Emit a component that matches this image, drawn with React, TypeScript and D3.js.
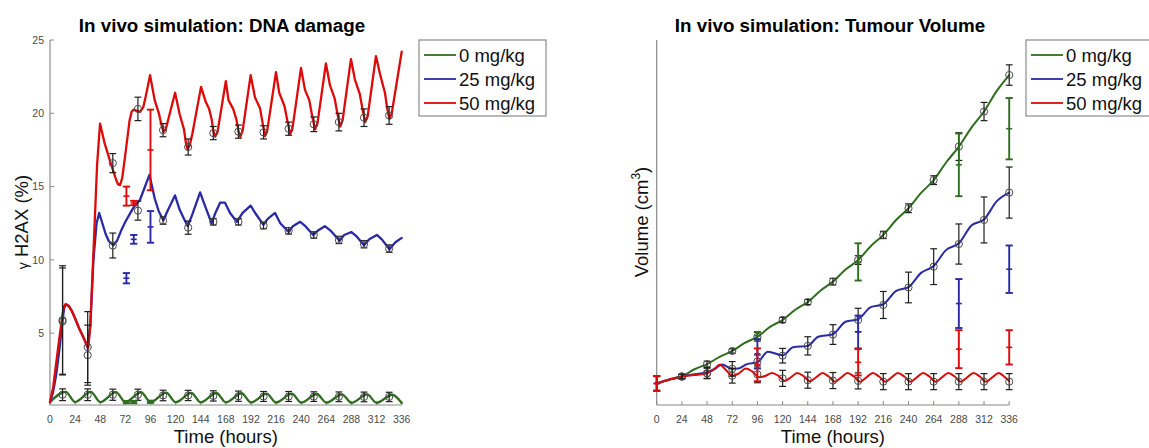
import React from 'react';
import * as d3 from 'd3';

// ---------- shared ----------
const HOUR_TICKS = [0, 24, 48, 72, 96, 120, 144, 168, 192, 216, 240, 264, 288, 312, 336];
const LEGEND_LABELS = ['0 mg/kg', '25 mg/kg', '50 mg/kg'];
const SERIES_COLORS = ['#2e6e1e', '#2a2aa6', '#dd0a0a'];

// ---------- DNA damage (left) ----------
const DNA_Y_TICKS = [5, 10, 15, 20, 25];

const dnaGreenSim: [number, number][] = [
  [0, 0.3], [15, 1.0], [24, 0.3], [39, 1.0], [48, 0.3], [63, 0.98], [72, 0.3], [87, 0.97], [96, 0.29],
  [111, 0.95], [120, 0.29], [135, 0.93], [144, 0.28], [159, 0.92], [168, 0.28], [183, 0.9], [192, 0.27],
  [207, 0.88], [216, 0.27], [231, 0.87], [240, 0.26], [255, 0.85], [264, 0.26], [279, 0.83], [288, 0.25],
  [303, 0.82], [312, 0.25], [327, 0.8], [336, 0.24],
];

const dnaBlueSim: [number, number][] = [
  [0, 0.3], [3, 1.0], [6, 2.2], [9, 3.9], [12, 5.9], [13.5, 6.7], [15, 6.95], [18, 6.85], [21, 6.5],
  [24, 6.0], [28, 5.3], [32, 4.7], [36, 4.0], [38.5, 5.5], [41.5, 10], [44.5, 12.5], [47, 13.2],
  [50, 12.5], [53, 11.8], [56, 11.3], [60.5, 11.0], [64, 11.3], [68, 12.0], [72, 12.6], [76, 13.1],
  [80, 13.6], [86, 14.1], [95, 15.8], [100, 14.2], [104, 13.3], [108.3, 12.7], [112, 13.3],
  [119.4, 14.4], [124, 13.4], [128, 12.8], [131.6, 12.3], [136, 13.1], [143.4, 14.6], [148, 13.7],
  [154.4, 12.5], [158, 13.2], [162.5, 13.9], [167.2, 13.9], [172, 13.2], [178.5, 12.6], [184, 13.2],
  [191.7, 13.7], [196, 13.2], [203.8, 12.4], [208, 12.8], [215, 13.2], [220, 12.5], [228, 11.9],
  [232, 12.3], [239, 12.6], [244, 12.3], [251.5, 11.7], [256, 12.0], [262.6, 12.3], [268, 12.0],
  [276.6, 11.3], [281, 11.7], [288, 11.9], [293, 11.6], [300, 11.0], [305, 11.4], [312.3, 11.7],
  [317, 11.4], [324.3, 10.73], [330, 11.2], [336, 11.5],
];

const dnaRedSim: [number, number][] = [
  [0, 0.3], [3, 1.3], [6, 3.0], [9, 4.7], [12, 6.3], [13.5, 6.85], [15, 7.0], [18, 6.85], [21, 6.5],
  [24, 6.0], [28, 5.3], [32, 4.7], [36.5, 4.0], [38.5, 5.5], [41.5, 10.5], [45, 16.5], [47.8, 19.3],
  [52, 18.0], [58, 16.6], [63, 15.5], [65, 15.15], [67, 15.1], [69, 15.6], [72, 17.2], [76, 19.5],
  [78, 20.1], [80, 20.25], [86, 20.1], [89, 20.4], [91, 21.0], [95.6, 22.6], [100, 20.9], [104, 20.0],
  [106.5, 19.2], [108.4, 18.75], [110.5, 18.9], [112, 19.3], [119.5, 21.4], [124, 19.9], [128, 18.9],
  [130, 17.9], [131.5, 17.55], [133.5, 17.8], [136, 18.6], [144.3, 21.8], [148.7, 20.8], [152, 20.3],
  [154.4, 19.6], [156, 18.8], [157.8, 18.4], [160, 18.7], [168, 22.2], [170.5, 20.9], [175, 20.3],
  [178, 19.6], [180, 18.8], [181.8, 18.4], [184, 18.8], [191.7, 22.6], [195.8, 21.1], [200.6, 20.35],
  [203, 19.4], [205.5, 18.45], [207.5, 18.8], [215.9, 22.8], [219, 21.4], [224, 20.5], [227, 19.4],
  [229.5, 18.6], [231.5, 18.9], [239.8, 23.1], [243.6, 21.6], [247.7, 20.9], [250.5, 19.8],
  [253.3, 18.9], [255.5, 19.3], [263.6, 23.4], [267.5, 21.9], [272, 21.0], [274.5, 20.0], [277.2, 19.1],
  [279.5, 19.5], [287.5, 23.7], [291.3, 22.3], [296, 21.3], [298.5, 20.3], [301.1, 19.4], [303.5, 19.8],
  [311.4, 23.9], [315.9, 22.5], [320, 21.4], [322, 20.4], [324.3, 19.6], [326.5, 20.0], [336, 24.2],
];

const dnaObsT = [12, 36, 60, 84, 108, 132, 156, 180, 204, 228, 252, 276, 300, 324];
const dnaGreenObs = [0.8, 0.8, 0.8, 0.8, 0.75, 0.75, 0.72, 0.7, 0.68, 0.68, 0.67, 0.66, 0.65, 0.65];
const dnaGreenObsErr = [0.4, 0.4, 0.38, 0.38, 0.36, 0.35, 0.35, 0.35, 0.34, 0.34, 0.33, 0.33, 0.33, 0.32];
const dnaBlueObs = [5.8, 3.5, 10.98, 13.36, 12.68, 12.2, 12.6, 12.6, 12.34, 11.98, 11.7, 11.36, 11.07, 10.77];
const dnaBlueObsErr = [3.65, 2.05, 0.85, 0.65, 0.25, 0.45, 0.22, 0.22, 0.22, 0.22, 0.22, 0.25, 0.25, 0.25];
const dnaRedObs = [5.9, 4.05, 16.6, 20.3, 18.85, 17.7, 18.65, 18.75, 18.7, 18.95, 19.25, 19.4, 19.7, 19.85];
const dnaRedObsErr = [3.7, 2.42, 0.65, 0.8, 0.45, 0.55, 0.45, 0.45, 0.45, 0.45, 0.5, 0.6, 0.6, 0.6];

const dnaExpT = [73, 80, 96];
const dnaGreenExp = [0.3, 0.3, 0.32];
const dnaGreenExpErr = [0.08, 0.08, 0.08];
const dnaBlueExp = [8.75, 11.4, 12.25];
const dnaBlueExpErr = [0.35, 0.3, 1.08];
const dnaRedExp = [14.35, 13.88, 17.5];
const dnaRedExpErr = [0.65, 0.15, 2.75];

// ---------- Tumour volume (right) ----------
const volGreenSim: [number, number][] = [
  [0, 0.059], [12, 0.069], [24, 0.078], [36, 0.098], [48, 0.112], [60, 0.132], [72, 0.148], [84, 0.17],
  [96, 0.187], [108, 0.214], [120, 0.233], [132, 0.261], [144, 0.282], [156, 0.313], [168, 0.338],
  [180, 0.371], [192, 0.397], [204, 0.435], [216, 0.466], [228, 0.506], [240, 0.539], [252, 0.581],
  [264, 0.616], [276, 0.665], [288, 0.708], [300, 0.76], [312, 0.804], [324, 0.86], [336, 0.904],
];

const volBlueSim: [number, number][] = [
  [0, 0.059], [12, 0.07], [24, 0.078], [36, 0.084], [48, 0.09], [56, 0.1], [62, 0.111], [72, 0.099],
  [78, 0.1], [86, 0.112], [96, 0.117], [106, 0.146], [120, 0.136], [130, 0.158], [144, 0.162],
  [154, 0.187], [168, 0.194], [180, 0.228], [192, 0.235], [204, 0.268], [216, 0.276], [228, 0.312],
  [240, 0.323], [252, 0.362], [264, 0.381], [276, 0.425], [288, 0.443], [300, 0.492], [312, 0.508],
  [324, 0.558], [336, 0.582],
];

const volRedSim: [number, number][] = [
  [0, 0.059], [12, 0.07], [24, 0.078], [36, 0.082], [48, 0.087], [54, 0.096], [60, 0.11], [66, 0.096],
  [72, 0.08], [78, 0.086], [85, 0.1], [91, 0.092], [98, 0.076], [104, 0.08], [110, 0.088], [116, 0.08],
  [122, 0.066], [128, 0.076], [134, 0.088], [140, 0.079], [146, 0.065], [152, 0.076], [158, 0.088],
  [164, 0.078], [170, 0.064], [176, 0.076], [182, 0.088], [188, 0.078], [194, 0.064], [200, 0.076],
  [206, 0.088], [212, 0.078], [218, 0.064], [224, 0.076], [230, 0.088], [236, 0.078], [242, 0.064],
  [248, 0.076], [254, 0.088], [260, 0.078], [266, 0.064], [272, 0.076], [278, 0.088], [284, 0.078],
  [290, 0.064], [296, 0.076], [302, 0.088], [308, 0.078], [314, 0.064], [320, 0.076], [326, 0.088],
  [332, 0.076], [336, 0.066],
];

const volObsT = [24, 48, 72, 96, 120, 144, 168, 192, 216, 240, 264, 288, 312, 336];
const volGreenObs = [0.078, 0.112, 0.148, 0.187, 0.233, 0.282, 0.338, 0.397, 0.466, 0.539, 0.616, 0.708, 0.804, 0.904];
const volGreenObsErr = [0.006, 0.008, 0.006, 0.012, 0.007, 0.007, 0.009, 0.012, 0.01, 0.012, 0.012, 0.038, 0.025, 0.028];
const volBlueObs = [0.078, 0.087, 0.099, 0.119, 0.135, 0.162, 0.193, 0.233, 0.274, 0.322, 0.379, 0.441, 0.507, 0.582];
const volBlueObsErr = [0.006, 0.015, 0.02, 0.018, 0.02, 0.025, 0.027, 0.032, 0.037, 0.042, 0.049, 0.055, 0.063, 0.07];
const volRedObs = [0.078, 0.087, 0.08, 0.084, 0.073, 0.068, 0.067, 0.066, 0.064, 0.064, 0.064, 0.064, 0.064, 0.064];
const volRedObsErr = [0.006, 0.014, 0.02, 0.023, 0.022, 0.022, 0.022, 0.022, 0.022, 0.022, 0.022, 0.022, 0.022, 0.022];

const volExpT = [0, 96, 192, 288, 336];
const volGreenExp = [0.059, 0.19, 0.392, 0.658, 0.757];
const volGreenExpErr = [0.02, 0.01, 0.051, 0.086, 0.084];
const volBlueExp = [0.059, 0.14, 0.2, 0.278, 0.372];
const volBlueExpErr = [0.02, 0.04, 0.045, 0.067, 0.065];
const volRedExp = [0.059, 0.11, 0.117, 0.153, 0.158];
const volRedExpErr = [0.02, 0.045, 0.036, 0.052, 0.047];

const FONT = '"Liberation Sans", Arial, Helvetica, sans-serif';
const AXIS_COLOR = '#8a8a8a';
const TICK_TEXT = '#4a4a4a';

type Scale = d3.ScaleLinear<number, number>;

function errBar(x: Scale, y: Scale, t: number, v: number, e: number, color: string, width: number, cap: number) {
  const px = x(t);
  const y1 = y(v - e);
  const y2 = y(v + e);
  return (
    <g stroke={color} strokeWidth={width} fill="none">
      <line x1={px} x2={px} y1={y1} y2={y2} />
      <line x1={px - cap} x2={px + cap} y1={y1} y2={y1} />
      <line x1={px - cap} x2={px + cap} y1={y2} y2={y2} />
    </g>
  );
}

function Panel(props: {
  x: Scale; y: Scale; title: string; titleX: number; yTicks: number[]; yLabel: React.ReactNode;
  yLabelX: number; sims: [number, number][][]; curves: any[]; lineWidth: number;
  obsT: number[]; obs: number[][]; obsErr: number[][];
  expT: number[]; exp: number[][]; expErr: number[][];
  legendX: number; legendW: number;
}) {
  const { x, y } = props;
  const [x0, x1] = x.range();
  const yBottom = 405;
  const yTop = 40;
  const cx = (x0 + x1) / 2;
  return (
    <g fontFamily={FONT}>
      <text x={props.titleX} y={32} textAnchor="middle" fontWeight="bold" fontSize={18.8} fill="#000">{props.title}</text>
      <line x1={x0} x2={x0} y1={yTop} y2={yBottom} stroke={AXIS_COLOR} strokeWidth={1.2} />
      <line x1={x0} x2={x1} y1={yBottom} y2={yBottom} stroke={AXIS_COLOR} strokeWidth={1.2} />
      {HOUR_TICKS.map(t => (
        <g key={'xt' + t}>
          <line x1={x(t)} x2={x(t)} y1={yBottom} y2={yBottom - 4} stroke={AXIS_COLOR} strokeWidth={1} />
          <text x={x(t)} y={423} textAnchor="middle" fontSize={10.5} fill={TICK_TEXT}>{t}</text>
        </g>
      ))}
      {props.yTicks.map(v => (
        <g key={'yt' + v}>
          <line x1={x0} x2={x0 + 4} y1={y(v)} y2={y(v)} stroke={AXIS_COLOR} strokeWidth={1} />
          <text x={x0 - 6} y={y(v) + 3.7} textAnchor="end" fontSize={10.5} fill={TICK_TEXT}>{v}</text>
        </g>
      ))}
      <text x={cx} y={443} textAnchor="middle" fontSize={18.5} fill="#111">Time (hours)</text>
      <text transform={`translate(${props.yLabelX},222) rotate(-90)`} textAnchor="middle" fontSize={18.5} fill="#111">{props.yLabel}</text>
      {props.sims.map((s, i) => {
        const line = d3.line<[number, number]>().x(d => x(d[0])).y(d => y(d[1])).curve(props.curves[i]);
        return (
          <path key={'s' + i} d={line(s) || ''} fill="none" stroke={SERIES_COLORS[i]} strokeWidth={props.lineWidth} strokeLinejoin="round" strokeLinecap="round" />
        );
      })}
      {props.obs.map((arr, i) => (
        <g key={'o' + i}>
          {arr.map((v, j) => (
            <g key={j}>
              {errBar(x, y, props.obsT[j], v, props.obsErr[i][j], '#1e1e1e', 1.2, 3.4)}
              <circle cx={x(props.obsT[j])} cy={y(v)} r={3.6} fill="none" stroke="#4a4a4a" strokeWidth={1} />
            </g>
          ))}
        </g>
      ))}
      {props.exp.map((arr, i) => (
        <g key={'e' + i}>
          {arr.map((v, j) => {
            const px = x(props.expT[j]);
            const py = y(v);
            return (
              <g key={j}>
                {errBar(x, y, props.expT[j], v, props.expErr[i][j], SERIES_COLORS[i], 1.9, 3.6)}
                <line x1={px - 3} x2={px + 3} y1={py} y2={py} stroke={SERIES_COLORS[i]} strokeWidth={1.6} />
              </g>
            );
          })}
        </g>
      ))}
      <rect x={props.legendX} y={40} width={props.legendW} height={76} fill="#fff" stroke="#8a8a8a" strokeWidth={1.2} />
      {LEGEND_LABELS.map((lab, i) => (
        <g key={'lg' + i}>
          <line x1={props.legendX + 5} x2={props.legendX + 37} y1={55 + i * 24} y2={55 + i * 24} stroke={SERIES_COLORS[i]} strokeWidth={1.8} />
          <text x={props.legendX + 40} y={55 + i * 24 + 6.5} fontSize={18.5} fill="#111">{lab}</text>
        </g>
      ))}
    </g>
  );
}

export default function App() {
  const xL = d3.scaleLinear().domain([0, 336]).range([50, 401.7]);
  const yL = d3.scaleLinear().domain([0.1, 25]).range([405, 40]);
  const xR = d3.scaleLinear().domain([0, 336]).range([656.7, 1009.2]);
  const yR = d3.scaleLinear().domain([0, 1]).range([405, 40]);
  return (
    <svg width={1149} height={448} style={{ position: 'absolute', left: 0, top: 0, background: '#fff' }}>
      <rect width={1149} height={448} fill="#fff" />
      <Panel
        x={xL} y={yL} title="In vivo simulation: DNA damage" titleX={222} yTicks={DNA_Y_TICKS}
        yLabel={<><tspan fontSize={14}>γ</tspan><tspan> H2AX (%)</tspan></>} yLabelX={28}
        sims={[dnaGreenSim, dnaBlueSim, dnaRedSim]} curves={[d3.curveMonotoneX, d3.curveLinear, d3.curveLinear]} lineWidth={2.3}
        obsT={dnaObsT} obs={[dnaGreenObs, dnaBlueObs, dnaRedObs]} obsErr={[dnaGreenObsErr, dnaBlueObsErr, dnaRedObsErr]}
        expT={dnaExpT} exp={[dnaGreenExp, dnaBlueExp, dnaRedExp]} expErr={[dnaGreenExpErr, dnaBlueExpErr, dnaRedExpErr]}
        legendX={419} legendW={127}
      />
      <Panel
        x={xR} y={yR} title="In vivo simulation: Tumour Volume" titleX={830} yTicks={[]}
        yLabel={<><tspan>Volume (cm</tspan><tspan fontSize={12} dy={-8}>3</tspan><tspan dy={8}>)</tspan></>} yLabelX={648}
        sims={[volGreenSim, volBlueSim, volRedSim]} curves={[d3.curveMonotoneX, d3.curveMonotoneX, d3.curveMonotoneX]} lineWidth={2}
        obsT={volObsT} obs={[volGreenObs, volBlueObs, volRedObs]} obsErr={[volGreenObsErr, volBlueObsErr, volRedObsErr]}
        expT={volExpT} exp={[volGreenExp, volBlueExp, volRedExp]} expErr={[volGreenExpErr, volBlueExpErr, volRedExpErr]}
        legendX={1026} legendW={140}
      />
    </svg>
  );
}
